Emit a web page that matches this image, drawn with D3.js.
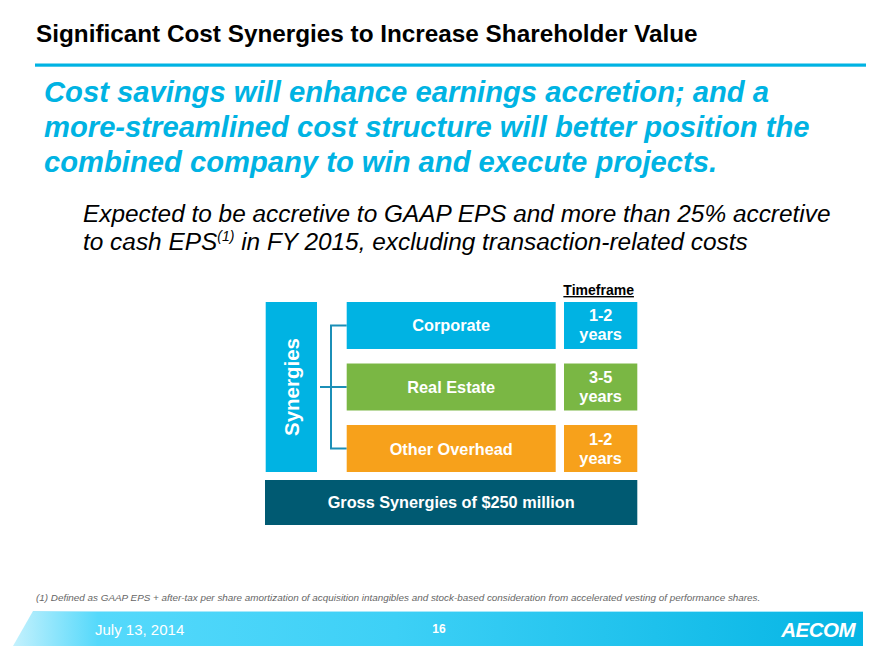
<!DOCTYPE html>
<html>
<head>
<meta charset="utf-8">
<script src="https://cdn.jsdelivr.net/npm/d3@7"></script>
<style>
  html, body { margin: 0; padding: 0; background: #fff; }
  svg { display: block; font-family: "Liberation Sans", Arial, sans-serif; }
</style>
</head>
<body>
<svg id="chart" width="880" height="660"></svg>
<script>
// ---- data ----
const categories = ["Corporate", "Real Estate", "Other Overhead"];
const timeframeTop = ["1-2", "3-5", "1-2"];
const timeframeBottom = ["years", "years", "years"];
const categoryColors = ["#00b3e3", "#7ab744", "#f7a11b"];
const groupLabel = "Synergies";
const totalLabel = "Gross Synergies of $250 million";
const timeframeHeader = "Timeframe";

const titleText = "Significant Cost Synergies to Increase Shareholder Value";
const subtitleLines = [
  "Cost savings will enhance earnings accretion; and a",
  "more-streamlined cost structure will better position the",
  "combined company to win and execute projects."
];
const footnoteText = "(1)  Defined as GAAP EPS + after-tax per share amortization of acquisition intangibles and stock-based consideration from accelerated vesting of performance shares.";
const dateText = "July 13, 2014";
const pageText = "16";
const logoText = "AECOM";

// ---- drawing ----
const svg = d3.select("#chart");
const cyan = "#00b3e3";

// gradient for footer band
const defs = svg.append("defs");
const grad = defs.append("linearGradient").attr("id", "band")
  .attr("gradientUnits", "userSpaceOnUse")
  .attr("x1", 13).attr("x2", 863).attr("y1", 0).attr("y2", 0);
[[0, "#c4f1fd"], [0.1, "#55d9fb"], [0.45, "#3dd0f6"], [1, "#05b5e4"]].forEach(([o, c]) =>
  grad.append("stop").attr("offset", o).attr("stop-color", c));

// title
svg.append("text").attr("x", 36).attr("y", 42)
  .attr("font-size", 24.3).attr("font-weight", "bold").attr("fill", "#000")
  .text(titleText);
svg.append("rect").attr("x", 35).attr("y", 63.5).attr("width", 831).attr("height", 3.2).attr("fill", cyan);

// subtitle
svg.append("g").selectAll("text").data(subtitleLines).join("text")
  .attr("x", 44).attr("y", (d, i) => 102 + i * 35)
  .attr("font-size", 29.2).attr("font-weight", "bold").attr("font-style", "italic")
  .attr("fill", cyan).text(d => d);

// body text
const body = svg.append("g").attr("font-size", 24.4).attr("font-style", "italic").attr("fill", "#000");
body.append("text").attr("x", 83).attr("y", 222)
  .text("Expected to be accretive to GAAP EPS and more than 25% accretive");
const l2 = body.append("text").attr("x", 83).attr("y", 250);
l2.append("tspan").text("to cash EPS");
l2.append("tspan").attr("font-size", 14).attr("dy", -9).text("(1)");
l2.append("tspan").attr("dy", 9).text(" in FY 2015, excluding transaction-related costs");

// diagram
const y = d3.scaleBand().domain(categories).range([302, 472]).paddingInner(0.236).paddingOuter(0);
const catX0 = 346.7, catX1 = 555.7, tfX0 = 564, tfX1 = 637.3;

// Synergies vertical box
svg.append("rect").attr("x", 265.7).attr("y", 302).attr("width", 51.3).attr("height", 170).attr("fill", cyan);
svg.append("text")
  .attr("transform", `translate(299,${(302 + 472) / 2}) rotate(-90)`)
  .attr("text-anchor", "middle").attr("font-size", 20.5).attr("font-weight", "bold").attr("fill", "#fff")
  .text(groupLabel);

// bracket
const br = svg.append("g").attr("stroke", "#1b8fb7").attr("stroke-width", 2).attr("fill", "none");
const centers = categories.map(c => y(c) + y.bandwidth() / 2);
br.append("line").attr("x1", 331).attr("x2", 331).attr("y1", centers[0]).attr("y2", centers[2]);
br.selectAll("line.stub").data(centers).join("line").attr("class", "stub")
  .attr("x1", 330).attr("x2", catX0).attr("y1", d => d).attr("y2", d => d);
br.append("line").attr("x1", 320).attr("x2", 331).attr("y1", centers[1]).attr("y2", centers[1]);

// category boxes
const rows = svg.append("g").selectAll("g").data(categories).join("g");
rows.append("rect").attr("x", catX0).attr("y", d => y(d))
  .attr("width", catX1 - catX0).attr("height", y.bandwidth())
  .attr("fill", (d, i) => categoryColors[i]);
rows.append("text").attr("x", (catX0 + catX1) / 2).attr("y", d => y(d) + y.bandwidth() / 2 + 6)
  .attr("text-anchor", "middle").attr("font-size", 16.3).attr("font-weight", "bold").attr("fill", "#fff")
  .text(d => d);
rows.append("rect").attr("x", tfX0).attr("y", d => y(d))
  .attr("width", tfX1 - tfX0).attr("height", y.bandwidth())
  .attr("fill", (d, i) => categoryColors[i]);
rows.append("text").attr("x", (tfX0 + tfX1) / 2).attr("y", d => y(d) + y.bandwidth() / 2 - 4)
  .attr("text-anchor", "middle").attr("font-size", 16.3).attr("font-weight", "bold").attr("fill", "#fff")
  .text((d, i) => timeframeTop[i]);
rows.append("text").attr("x", (tfX0 + tfX1) / 2).attr("y", d => y(d) + y.bandwidth() / 2 + 15)
  .attr("text-anchor", "middle").attr("font-size", 16.3).attr("font-weight", "bold").attr("fill", "#fff")
  .text((d, i) => timeframeBottom[i]);

// timeframe header
svg.append("text").attr("x", (tfX0 + tfX1) / 2 - 2).attr("y", 295)
  .attr("text-anchor", "middle").attr("font-size", 14).attr("font-weight", "bold")
  .attr("text-decoration", "underline").attr("fill", "#000")
  .text(timeframeHeader);

// gross box
svg.append("rect").attr("x", 265).attr("y", 480).attr("width", 372.3).attr("height", 45).attr("fill", "#005a72");
svg.append("text").attr("x", (265 + 637.3) / 2).attr("y", 508)
  .attr("text-anchor", "middle").attr("font-size", 16.3).attr("font-weight", "bold").attr("fill", "#fff")
  .text(totalLabel);

// footnote
svg.append("text").attr("x", 36).attr("y", 601)
  .attr("font-size", 9.9).attr("font-style", "italic").attr("fill", "#666")
  .text(footnoteText);

// footer band
svg.append("path").attr("d", "M33,611 L863,611 L863,646 L13,646 Z").attr("fill", "url(#band)");
svg.append("line").attr("x1", 33).attr("x2", 863).attr("y1", 611.5).attr("y2", 611.5)
  .attr("stroke", "#a8e9fb").attr("stroke-width", 1);
svg.append("text").attr("x", 95).attr("y", 635)
  .attr("font-size", 15).attr("fill", "#fff").text(dateText);
svg.append("text").attr("x", 439).attr("y", 633)
  .attr("text-anchor", "middle").attr("font-size", 12).attr("font-weight", "bold").attr("fill", "#fff").text(pageText);
svg.append("text").attr("x", 855).attr("y", 636.5)
  .attr("text-anchor", "end").attr("font-size", 20.5).attr("font-weight", "bold").attr("font-style", "italic")
  .attr("fill", "#fff").attr("letter-spacing", -0.5).text(logoText);
</script>
</body>
</html>
